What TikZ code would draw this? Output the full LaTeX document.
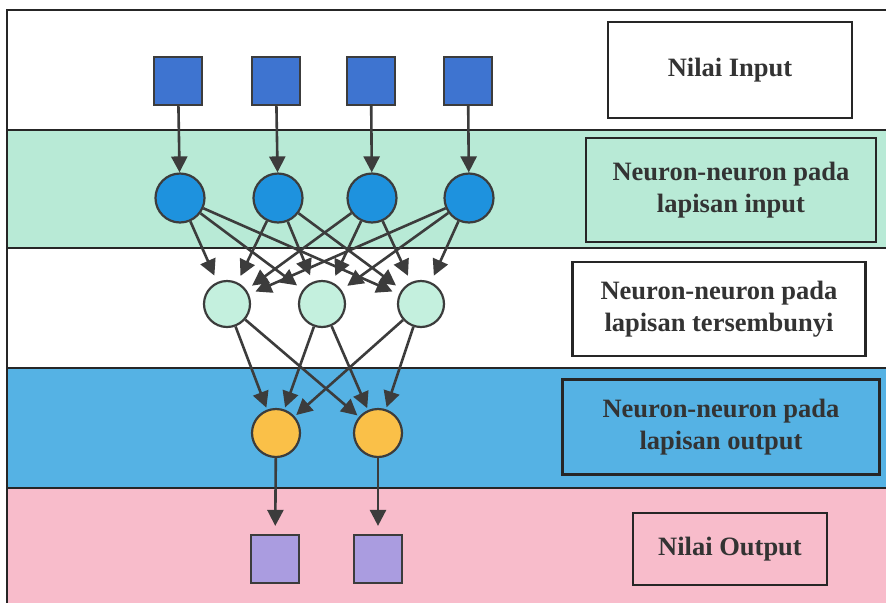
\documentclass[tikz,border=0pt]{standalone}
\usepackage{fontspec}
\setmainfont{Liberation Serif}
\usetikzlibrary{calc, positioning}
\usetikzlibrary{arrows.meta}

\definecolor{bandgreen}{RGB}{184,234,214}
\definecolor{bandblue}{RGB}{85,178,228}
\definecolor{bandpink}{RGB}{248,188,203}
\definecolor{inblue}{RGB}{62,116,208}
\definecolor{cellblue}{RGB}{30,146,222}
\definecolor{cellmint}{RGB}{196,240,222}
\definecolor{cellgold}{RGB}{250,192,72}
\definecolor{outlilac}{RGB}{170,156,224}
\definecolor{ink}{RGB}{60,60,60}

\tikzset{
  sq/.style={draw=ink, line width=2.2pt, minimum size=48pt, inner sep=0pt},
  cell/.style={circle, draw=ink, line width=2.2pt, inner sep=0pt},
  link/.style={-{Triangle[length=16pt,width=16pt]}, draw=ink, line width=2.6pt},
  tag/.style={draw=black!85, line width=2.6pt, text=black!80, align=center,
    font=\bfseries\fontsize{26.5}{32}\selectfont, inner sep=0pt},
}

\begin{document}
\begin{tikzpicture}[x=1pt,y=-1pt]
\def\xl{7}
\def\xr{886}
\useasboundingbox (0,0) rectangle (886,603);

% bands
\fill[white] (\xl,10) rectangle (\xr,130);
\fill[bandgreen] (\xl,130) rectangle (\xr,248);
\fill[white] (\xl,248) rectangle (\xr,368);
\fill[bandblue] (\xl,368) rectangle (\xr,488);
\fill[bandpink] (\xl,488) rectangle (\xr,603);
\draw[line width=2.6pt, black!85] (\xr,10) -- (\xl,10) -- (\xl,603);
\foreach \y in {130,248,368,488}
  \draw[line width=2.6pt, black!85] (\xl,\y) -- (\xr,\y);

% labels
\node[tag, fill=white, minimum width=244pt, minimum height=96pt] (tin) at (730,70) {Nilai Input};
\node[tag, fill=bandgreen, minimum width=290pt, minimum height=104pt] (tlin) at (731,190) {Neuron-neuron pada\\lapisan input};
\node[tag, fill=white, minimum width=293pt, minimum height=94pt] (tlhid) at (719,309) {Neuron-neuron pada\\lapisan tersembunyi};
\node[tag, fill=bandblue, minimum width=317pt, minimum height=95pt] (tlout) at (721,427) {Neuron-neuron pada\\lapisan output};
\node[tag, fill=bandpink, minimum width=194pt, minimum height=72pt] (tout) at (730,549) {Nilai Output};

% input values
\node[sq, fill=inblue] (x1) at (178,81) {};
\node[sq, fill=inblue] (x2) at (276,81) {};
\node[sq, fill=inblue] (x3) at (371,81) {};
\node[sq, fill=inblue] (x4) at (468,81) {};

% input layer
\node[cell, fill=cellblue, minimum size=49pt] (n1) at (180,198) {};
\node[cell, fill=cellblue, minimum size=49pt] (n2) at (278,198) {};
\node[cell, fill=cellblue, minimum size=49pt] (n3) at (372,198) {};
\node[cell, fill=cellblue, minimum size=49pt] (n4) at (469,198) {};

% hidden layer
\node[cell, fill=cellmint, minimum size=46pt] (h1) at (227,304) {};
\node[cell, fill=cellmint, minimum size=46pt] (h2) at (322,304) {};
\node[cell, fill=cellmint, minimum size=46pt] (h3) at (421,304) {};

% output layer
\node[cell, fill=cellgold, minimum size=48pt] (o1) at (276,433) {};
\node[cell, fill=cellgold, minimum size=48pt] (o2) at (378,433) {};

% output values
\node[sq, fill=outlilac] (y1) at (275,559) {};
\node[sq, fill=outlilac] (y2) at (378,559) {};

\foreach \i in {1,...,4}
  \draw[link] (x\i) -- (n\i);
\foreach \i in {1,...,4}
  \foreach \j in {1,2,3}
    \draw[link, shorten >=7pt] (n\i) -- (h\j);
\foreach \j in {1,2,3}
  \foreach \k in {1,2}
    \draw[link, shorten >=2pt] (h\j) -- (o\k);
\draw[link, shorten >=8pt] (o1) -- (y1);
\draw[link, shorten >=8pt] (o2) -- (y2);
\end{tikzpicture}
\end{document}
